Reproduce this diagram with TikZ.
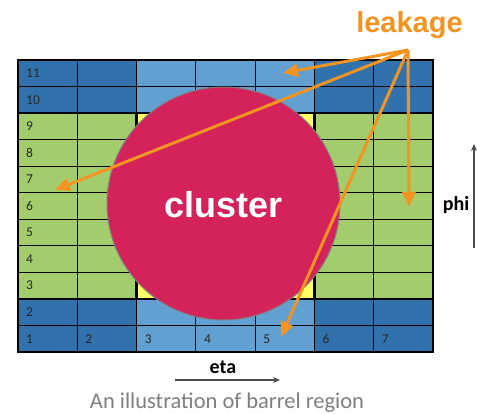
\documentclass[tikz,border=0pt]{standalone}
\usepackage{fontspec}
\setmainfont{Carlito}
\newfontfamily\headfont{Liberation Sans}
\usetikzlibrary{arrows.meta}
\definecolor{dblue}{HTML}{3272AC}
\definecolor{lblue}{HTML}{62A0D2}
\definecolor{lgreen}{HTML}{A3CD6C}
\definecolor{cyel}{HTML}{FFFF66}
\definecolor{crim}{HTML}{D3235A}
\definecolor{leak}{HTML}{F39322}
\definecolor{capgray}{HTML}{7F7F7F}
\tikzset{
  thin grid/.style={line width=1pt, draw=black},
  thick grid/.style={line width=2.6pt, draw=black, line cap=rect},
  numlabel/.style={anchor=west, inner sep=0pt, font=\fontsize{13.5}{13.5}\selectfont, text=black!85},
  leakarrow/.style={draw=leak, line width=3pt, -{Triangle[length=15pt,width=13pt]}},
  axisarrow/.style={draw=black!70, line width=1.1pt, -{Stealth[length=7pt,width=6pt]}},
  axislabel/.style={font=\fontsize{20}{20}\selectfont\bfseries, inner sep=0pt, anchor=base},
}
\begin{document}
\begin{tikzpicture}[x=1pt,y=-1pt]
\useasboundingbox (0,0) rectangle (477,413);
\def\cw{59.286}
\def\rh{26.545}
% fills
\foreach \j in {0,1,9,10}{
  \foreach \i in {0,1,5,6}{
    \fill[dblue] ({18+\i*\cw},{60+\j*\rh}) rectangle ++(\cw,\rh);
  }
  \foreach \i in {2,3,4}{
    \fill[lblue] ({18+\i*\cw},{60+\j*\rh}) rectangle ++(\cw,\rh);
  }
}
\foreach \j in {2,...,8}{
  \foreach \i in {0,1,5,6}{
    \fill[lgreen] ({18+\i*\cw},{60+\j*\rh}) rectangle ++(\cw,\rh);
  }
  \foreach \i in {2,3,4}{
    \fill[cyel] ({18+\i*\cw},{60+\j*\rh}) rectangle ++(\cw,\rh);
  }
}
% thin grid lines
\foreach \i in {1,...,6}{
  \draw[thin grid] ({18+\i*\cw},60) -- ({18+\i*\cw},352);
}
\foreach \j in {1,...,10}{
  \draw[thin grid] (18,{60+\j*\rh}) -- (433,{60+\j*\rh});
}
% thick lines
\draw[thick grid] (18,{60+2*\rh}) -- (433,{60+2*\rh});
\draw[thick grid] (18,{60+9*\rh}) -- (433,{60+9*\rh});
\draw[thick grid] ({18+2*\cw},{60+2*\rh}) -- ({18+2*\cw},{60+9*\rh});
\draw[thick grid] ({18+5*\cw},{60+2*\rh}) -- ({18+5*\cw},{60+9*\rh});
\draw[thick grid] (18,60) rectangle (433,352);
% row numbers
\foreach \n [evaluate=\n as \jj using {11-\n}] in {11,10,...,1}{
  \node[numlabel] (r\n) at (26,{60+(\jj+0.5)*\rh}) {\n};
}
% column numbers
\foreach \n in {2,...,7}{
  \node[numlabel] (c\n) at ({18+(\n-1)*\cw+8},{60+10.5*\rh}) {\n};
}
% cluster
\node[circle, fill=crim, draw=gray, line width=1pt, minimum size=233pt, inner sep=0pt] (cl) at (223.5,203.5) {};
\node[text=white, font=\headfont\bfseries\fontsize{36}{36}\selectfont, inner sep=0pt, anchor=base] (cltext) at (223.5,217) {cluster};
% leakage
\node[text=leak, font=\headfont\bfseries\fontsize{29}{29}\selectfont, inner sep=0pt, anchor=base] (lk) at (409.5,32) {leakage};
\coordinate (src) at (408,50);
\coordinate (t1) at (283,73);
\coordinate (t2) at (55,190);
\coordinate (t3) at (409,207);
\coordinate (t4) at (281,337);
\draw[leakarrow] (src) -- (t1);
\draw[leakarrow] (src) -- (t2);
\draw[leakarrow] (src) -- (t3);
\draw[leakarrow] (src) -- (t4);
% axes
\node[axislabel] (phi) at (456,210) {phi};
\coordinate (phib) at (474,248);
\coordinate (phit) at (474,144);
\draw[axisarrow] (phib) -- (phit);
\node[axislabel] (eta) at (223,373) {eta};
\coordinate (etal) at (175,380);
\coordinate (etar) at (280,380);
\draw[axisarrow] (etal) -- (etar);
\node[text=capgray, font=\fontsize{22.5}{22.5}\selectfont, inner sep=0pt, anchor=base] (cap) at (227,408) {An illustration of barrel region};
\end{tikzpicture}
\end{document}
